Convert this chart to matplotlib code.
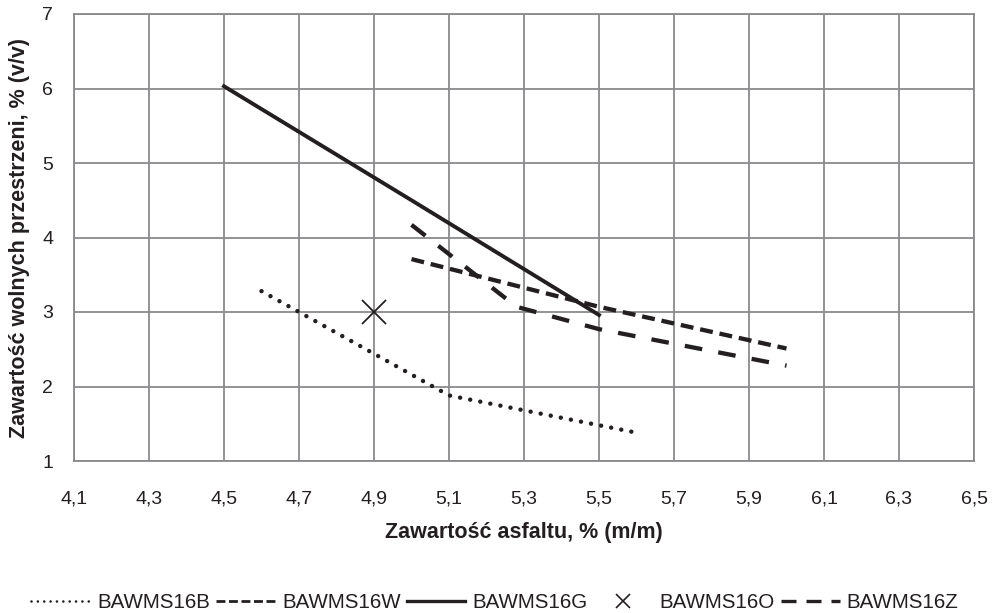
import matplotlib
matplotlib.use("Agg")
import matplotlib.pyplot as plt
from matplotlib.lines import Line2D

plt.rcParams['font.family'] = ['Liberation Sans', 'DejaVu Sans']

x_B = [4.6, 4.9, 5.1, 5.6]
y_B = [3.28, 2.44, 1.88, 1.38]
x_W = [5.0, 5.5, 6.0]
y_W = [3.71, 3.07, 2.51]
x_G = [4.5, 5.0, 5.5]
y_G = [6.03, 4.50, 2.96]
x_O = [4.9]
y_O = [3.0]
x_Z = [5.0, 5.28, 5.5, 6.0]
y_Z = [4.17, 3.07, 2.77, 2.28]

names = ['BAWMS16B', 'BAWMS16W', 'BAWMS16G', 'BAWMS16O', 'BAWMS16Z']
xticks = [4.1, 4.3, 4.5, 4.7, 4.9, 5.1, 5.3, 5.5, 5.7, 5.9, 6.1, 6.3, 6.5]
yticks = [1, 2, 3, 4, 5, 6, 7]

col = '#231f20'
fig = plt.figure(figsize=(9.96, 6.13), dpi=100)
ax = fig.add_axes([74/996, 1-461/613, 900/996, 447/613])

ax.plot(x_B, y_B, color=col, lw=3.2, linestyle=(0, (0.01, 2.3)), dash_capstyle='round')
ax.plot(x_W, y_W, color=col, lw=3.1, linestyle=(0, (3.0, 1.6)))
ax.plot(x_G, y_G, color=col, lw=2.8, linestyle='-')
ax.plot(x_O, y_O, color=col, lw=0, marker='x', markersize=17.5, markeredgewidth=1.3)
ax.plot(x_Z, y_Z, color=col, lw=3.1, linestyle=(0, (4.1, 3.8)))

ax.set_xlim(4.1, 6.5)
ax.set_ylim(1, 7)
ax.set_xticks(xticks)
ax.set_xticklabels([f"{v:.1f}".replace('.', ',') for v in xticks])
ax.set_yticks(yticks)
ax.set_yticklabels([str(v) for v in yticks])
ax.grid(True, color='#8a8a8c', lw=1.3)
ax.set_axisbelow(True)
for s in ax.spines.values():
    s.set_color('#8a8a8c')
    s.set_linewidth(1.3)
ax.tick_params(axis='both', length=0, labelsize=14, colors=col)
ax.tick_params(axis='x', pad=21)
ax.tick_params(axis='y', pad=15)

ax.set_xlabel('Zawartość asfaltu, % (m/m)', fontsize=15.5, fontweight='bold', color=col, labelpad=11)
ax.set_ylabel('Zawartość wolnych przestrzeni, % (v/v)', fontsize=15.5, fontweight='bold', color=col, labelpad=9)

handles = [
    Line2D([], [], color=col, lw=1.9, linestyle=(0, (0.01, 2.4)), dash_capstyle='round'),
    Line2D([], [], color=col, lw=2.0, linestyle=(0, (3.2, 1.3))),
    Line2D([], [], color=col, lw=2.4, linestyle='-'),
    Line2D([], [], color=col, lw=0, marker='x', markersize=10, markeredgewidth=1.2),
    Line2D([], [], color=col, lw=2.4, linestyle=(0, (4.5, 3.0))),
]
leg = fig.legend(handles, names, loc='center', bbox_to_anchor=(0.497, 1-603/613), ncol=5, frameon=False,
                 fontsize=14.8, handlelength=2.85, columnspacing=0.3, handletextpad=0.35,
                 borderpad=0, borderaxespad=0)
for t in leg.get_texts():
    t.set_color(col)

fig.savefig('out.png', dpi=100)
